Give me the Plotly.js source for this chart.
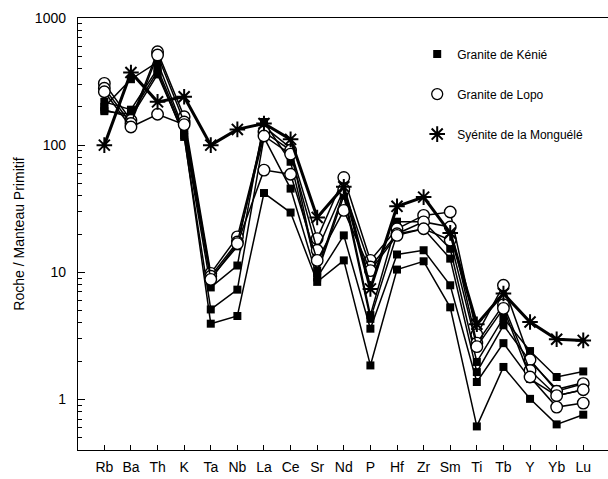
<!DOCTYPE html>
<html>
<head>
<meta charset="utf-8">
<script src="https://cdn.plot.ly/plotly-3.0.1.min.js"></script>
<style>
html,body{margin:0;padding:0;background:#fff;overflow:hidden;}
#chart{width:608px;height:479px;}
</style>
</head>
<body>
<div id="chart"></div>
<script>
// Elements (primitive-mantle normalised spider diagram)
const categories = ['Rb','Ba','Th','K','Ta','Nb','La','Ce','Sr','Nd','P','Hf','Zr','Sm','Ti','Tb','Y','Yb','Lu'];

// Granite de Kénié (filled squares)
const kenieA = [219, 190, 400, 125, 7.6, 11.3, 152, 74, 10.3, 43, 4.6, 25, 25, 15.3, 1.97, 4.37, 2.4, 1.5, 1.66];
const kenieB = [200, 330, 450, 130, 9.0, 16, 140, 95, 9.8, 40, 4.3, 20, 22, 12.8, 1.64, 3.83, 2.0, 1.2, 1.35];
const kenieC = [185, 175, 380, 116, 5.1, 7.3, 115, 45.5, 9.1, 19.5, 3.6, 13.8, 14.9, 7.9, 1.37, 2.77, 1.45, 1.07, 1.19];
const kenieD = [190, 165, 360, 120, 3.94, 4.53, 42, 29.5, 8.4, 12.4, 1.85, 10.5, 12.2, 5.3, 0.613, 1.80, 1.01, 0.636, 0.758];

// Granite de Lopo (open circles)
const lopo1 = [306, 157, 543, 167, 9.8, 19, 127, 91, 18.4, 55.7, 12.4, 22, 28, 29.8, 3.23, 7.9, 2.05, 1.16, 1.33];
const lopo2 = [280, 148, 511, 152, 9.3, 17.3, 118, 85, 14.9, 45, 11.0, 20.1, 24.9, 22.7, 2.77, 5.56, 1.69, 1.07, 1.19];
const lopo3 = [263, 139, 175, 145, 8.8, 16.8, 63.6, 59, 12.4, 30.7, 10.3, 19.5, 22, 17.9, 2.6, 5.2, 1.5, 0.87, 0.935];

// Syénite de la Monguélé (asterisks)
const syenite = [100, 373, 219, 240, 100, 133, 148, 111, 27, 47, 7.4, 33, 39, 20.4, 3.9, 6.8, 4.06, 2.97, 2.91];

const yTickVals = [1, 10, 100, 1000];
const yTickText = ['1', '10', '100', '1000'];
const yMinorVals = [0.4,0.5,0.6,0.7,0.8,0.9,2,3,4,5,6,7,8,9,20,30,40,50,60,70,80,90,200,300,400,500,600,700,800,900];

const kenieSeries = [kenieA, kenieB, kenieC, kenieD];
const lopoSeries = [lopo1, lopo2, lopo3];

const traces = [];
kenieSeries.forEach(v => traces.push({
  x: categories, y: v, type: 'scatter', mode: 'lines+markers', showlegend: false,
  line: {color: '#000', width: 1.5},
  marker: {symbol: 'square', size: 8, color: '#000'}
}));
lopoSeries.forEach(v => traces.push({
  x: categories, y: v, type: 'scatter', mode: 'lines+markers', showlegend: false,
  line: {color: '#000', width: 1.5},
  marker: {symbol: 'circle', size: 11.5, color: '#fff', line: {color: '#000', width: 1.4}}
}));
traces.push({
  x: categories, y: syenite, type: 'scatter', mode: 'lines+markers', showlegend: false,
  line: {color: '#000', width: 3},
  marker: {symbol: 'asterisk-open', size: 13, color: '#000', line: {color: '#000', width: 2}}
});

// legend entries (markers only)
traces.push({x: [null], y: [null], type: 'scatter', mode: 'markers', name: 'Granite de Kénié', legendgroup: 'a',
  marker: {symbol: 'square', size: 8, color: '#000'}});
traces.push({x: [null], y: [null], type: 'scatter', mode: 'markers', name: 'Granite de Lopo', legendgroup: 'b',
  marker: {symbol: 'circle', size: 11, color: '#fff', line: {color: '#000', width: 1.3}}});
traces.push({x: [null], y: [null], type: 'scatter', mode: 'markers', name: 'Syénite de la Monguélé', legendgroup: 'c',
  marker: {symbol: 'asterisk-open', size: 13, color: '#000', line: {color: '#000', width: 2}}});

const layout = {
  width: 608, height: 479,
  margin: {l: 78, r: 0, t: 18, b: 29, pad: 0},
  paper_bgcolor: '#fff', plot_bgcolor: '#fff',
  font: {family: 'Liberation Sans, Arial, sans-serif', color: '#000', size: 14},
  showlegend: true,
  legend: {x: 0.64, xanchor: 'left', y: 0.95, yanchor: 'top', bgcolor: 'rgba(0,0,0,0)',
           font: {size: 12, color: '#000'}, tracegroupgap: 21, traceorder: 'grouped'},
  xaxis: {
    type: 'category', range: [-0.99, 18.93], categoryorder: 'array', categoryarray: categories,
    showline: true, linecolor: '#000', linewidth: 1.2, mirror: true,
    ticks: 'inside', ticklen: 5, tickcolor: '#000', tickwidth: 1,
    showgrid: false, zeroline: false, tickfont: {size: 14}, ticklabelstandoff: 4
  },
  yaxis: {
    type: 'log', range: [-0.398, 3],
    tickmode: 'array', tickvals: yTickVals, ticktext: yTickText,
    showline: true, linecolor: '#000', linewidth: 1.2, mirror: false,
    ticks: 'inside', ticklen: 7, tickcolor: '#000', tickwidth: 1,
    minor: {tickmode: 'array', tickvals: yMinorVals, ticks: 'inside', ticklen: 4, tickcolor: '#000', tickwidth: 1, showgrid: false},
    showgrid: false, zeroline: false, tickfont: {size: 14}, ticklabelstandoff: 8,
    title: {text: 'Roche / Manteau Primitif', font: {size: 14}, standoff: 7}
  }
};

Plotly.newPlot('chart', traces, layout, {staticPlot: true, displayModeBar: false});
</script>
</body>
</html>
